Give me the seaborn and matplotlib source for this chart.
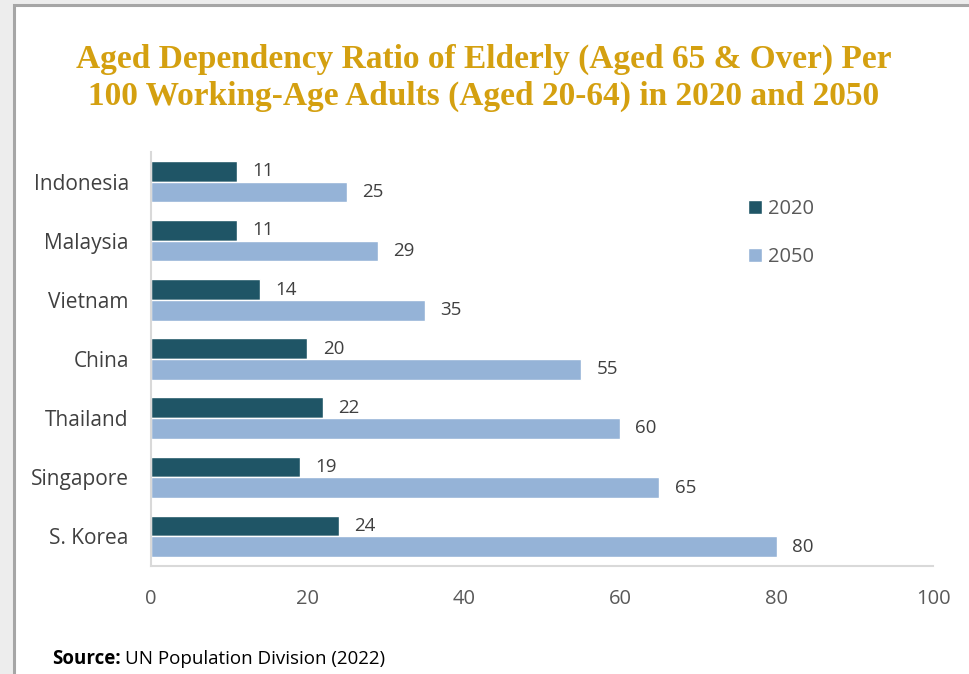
import matplotlib
matplotlib.use("Agg")
import matplotlib.pyplot as plt
import seaborn as sns
import pandas as pd
from matplotlib.patches import Rectangle

countries = ["Indonesia", "Malaysia", "Vietnam", "China", "Thailand", "Singapore", "S. Korea"]
ratio_2020 = [11, 11, 14, 20, 22, 19, 24]
ratio_2050 = [25, 29, 35, 55, 60, 65, 80]
years = ["2020", "2050"]
colors = ["#1F5566", "#95B3D7"]

df = pd.DataFrame({
    "country": countries * 2,
    "ratio": ratio_2020 + ratio_2050,
    "year": [years[0]] * len(countries) + [years[1]] * len(countries),
})

sns.set_style("white")
plt.rcParams["font.family"] = ["Open Sans", "DejaVu Sans"]

fig = plt.figure(figsize=(9.69, 6.74), dpi=100)
fig.patch.set_facecolor("#EDEDED")
# white page with grey frame on the left / top
fig.add_artist(Rectangle((13.5 / 969, -0.02), 1.05, 1 - 5 / 674 + 0.02,
                         transform=fig.transFigure, facecolor="white",
                         edgecolor="#A6A6A6", linewidth=2.2, zorder=0))

ax = fig.add_axes([151 / 969, 1 - 566 / 674, 782 / 969, 414 / 674])
ax.patch.set_alpha(0)

sns.barplot(data=df, x="ratio", y="country", hue="year", orient="h",
            palette=colors, width=0.7, saturation=1, ax=ax)

for c in ax.containers:
    ax.bar_label(c, padding=11, fontsize=13.5, color="#404040")

ax.set_xlim(0, 100)
ax.set_ylim(6.5, -0.5)
ax.set_xticks(range(0, 101, 20))
ax.set_xlabel("")
ax.set_ylabel("")
ax.tick_params(axis="x", length=0, pad=16.5, labelsize=14.5, labelcolor="#595959")
ax.tick_params(axis="y", length=0, pad=16, labelsize=15, labelcolor="#404040")
sns.despine(ax=ax, top=True, right=True)
for s in ["left", "bottom"]:
    ax.spines[s].set_color("#D9D9D9")
    ax.spines[s].set_linewidth(1.5)

leg = ax.legend(frameon=False, loc="upper left", bbox_to_anchor=(0.763, 0.886),
                borderaxespad=0, borderpad=0, fontsize=14.5,
                handlelength=0.7, handleheight=0.7, handletextpad=0.3,
                labelspacing=1.38)
for t in leg.get_texts():
    t.set_color("#595959")

fig.text(484 / 969, 1 - 78 / 674,
         "Aged Dependency Ratio of Elderly (Aged 65 & Over) Per\n"
         "100 Working-Age Adults (Aged 20-64) in 2020 and 2050",
         ha="center", va="center", fontsize=24, fontweight="bold",
         color="#D4A010", family=["Liberation Serif", "DejaVu Serif"],
         linespacing=1.22)

# source line: bold label + regular text on the same baseline
src_y = 1 - 664 / 674
src = fig.text(52 / 969, src_y, "Source:", fontsize=13.5,
               fontweight="bold", color="black", va="baseline")
fig.canvas.draw()
bb = src.get_window_extent()
fig.text((bb.x1 + 4) / 969, src_y, "UN Population Division (2022)",
         fontsize=13.5, color="black", va="baseline")

fig.savefig("out.png", dpi=100, facecolor=fig.get_facecolor())
